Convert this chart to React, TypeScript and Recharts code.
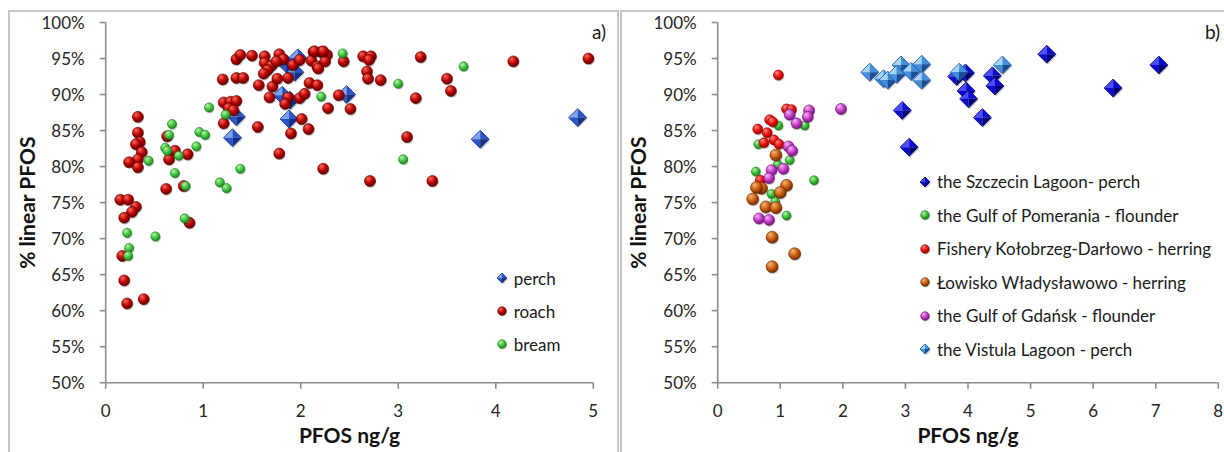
import React from 'react';
import { ScatterChart, Scatter, XAxis, YAxis } from 'recharts';

const FONT = 'Lato, "Open Sans", sans-serif';

// ---------- Panel a) : PFOS ng/g vs % linear PFOS ----------
const perchA: [number, number][] = [
  [1.30, 84.0], [1.34, 86.9], [1.81, 89.9], [1.89, 89.2], [1.88, 86.6], [1.97, 95.1],
  [1.94, 93.1], [1.85, 94.3], [2.47, 90.0], [3.84, 83.8], [4.84, 86.8],
];
const roachA: [number, number][] = [
  [0.33, 86.9], [0.33, 84.7], [0.35, 83.4], [0.31, 83.1], [0.37, 82.0], [0.33, 81.0], [0.24, 80.6], [0.33, 79.9],
  [0.63, 84.2], [0.71, 82.2], [0.65, 81.0], [0.84, 81.7], [0.62, 76.9], [0.80, 77.3], [0.86, 72.2],
  [0.15, 75.4], [0.23, 75.4], [0.31, 74.4], [0.27, 73.7], [0.19, 72.9], [0.17, 67.6], [0.19, 64.2], [0.22, 61.0], [0.39, 61.6],
  [1.21, 86.0], [1.56, 85.5], [1.21, 88.9], [1.28, 89.0], [1.34, 89.1], [1.26, 88.1], [1.31, 87.8],
  [1.20, 92.1], [1.34, 92.3], [1.41, 92.3], [1.34, 94.9], [1.38, 95.5], [1.50, 95.4], [1.63, 95.3], [1.63, 94.4],
  [1.70, 94.0], [1.66, 93.4], [1.62, 92.9], [1.57, 91.3], [1.71, 91.1], [1.76, 92.2], [1.87, 92.3], [1.68, 89.6],
  [1.87, 89.6], [1.84, 88.7], [1.99, 89.5], [2.04, 90.1], [1.78, 95.6], [1.82, 94.9], [1.75, 94.6], [1.92, 94.1],
  [1.99, 94.8], [2.13, 95.9], [2.21, 95.9], [2.27, 95.5], [2.11, 94.7], [2.17, 93.9], [2.25, 94.6], [2.44, 94.6],
  [2.09, 91.6], [2.17, 91.3], [2.39, 89.9], [2.28, 88.1], [2.51, 88.0], [2.01, 86.6], [2.08, 85.2], [1.90, 84.6],
  [1.78, 81.8], [2.64, 95.3], [2.72, 95.3], [2.70, 94.8], [2.68, 93.2], [2.69, 92.2], [2.82, 92.0], [3.23, 95.2],
  [3.50, 92.2], [3.54, 90.5], [3.18, 89.5], [4.18, 94.6], [4.95, 95.0], [3.09, 84.1], [2.23, 79.7], [2.71, 78.0],
  [3.35, 78.0], [2.18, 93.6], [2.14, 96.0], [2.23, 96.0],
];
const breamA: [number, number][] = [
  [1.06, 88.2], [1.23, 87.2], [0.68, 85.9], [0.65, 84.4], [0.96, 84.8], [1.02, 84.4], [0.93, 82.8], [0.61, 82.6],
  [0.63, 82.2], [0.75, 81.5], [0.44, 80.8], [0.71, 79.1], [0.82, 77.3], [1.38, 79.7], [1.17, 77.8], [1.24, 77.0],
  [0.81, 72.8], [0.22, 70.8], [0.51, 70.3], [0.24, 68.7], [0.23, 67.6], [2.43, 95.7], [2.21, 89.7], [3.67, 93.9],
  [3.00, 91.5], [3.05, 81.0],
];

// ---------- Panel b) ----------
const szczecinB: [number, number][] = [
  [2.95, 87.8], [3.06, 82.7], [3.82, 92.5], [3.96, 93.0], [3.97, 90.5], [4.01, 89.4], [4.23, 86.8],
  [4.39, 92.6], [4.43, 91.2], [5.26, 95.6], [6.32, 90.9], [7.05, 94.1],
];
const pomeraniaB: [number, number][] = [
  [0.97, 85.7], [1.39, 85.7], [0.65, 83.1], [1.15, 80.9], [0.96, 80.3], [0.61, 79.3], [1.54, 78.1],
  [0.86, 76.2], [0.92, 75.1], [1.10, 73.2],
];
const kolobrzegB: [number, number][] = [
  [0.97, 92.7], [1.10, 88.0], [1.18, 87.9], [0.83, 86.5], [0.88, 86.2], [0.64, 85.2], [0.79, 84.7],
  [0.74, 83.3], [0.90, 83.7], [0.98, 83.1], [0.68, 78.1],
];
const wladyslawowoB: [number, number][] = [
  [0.93, 81.6], [0.70, 77.0], [0.62, 77.1], [1.10, 77.4], [1.00, 76.4], [0.56, 75.5], [0.77, 74.4],
  [0.93, 74.3], [0.87, 70.2], [1.23, 67.9], [0.87, 66.1],
];
const gdanskB: [number, number][] = [
  [1.46, 87.8], [1.15, 87.2], [1.44, 86.9], [1.26, 86.0], [1.13, 82.8], [1.19, 82.2], [0.86, 79.5],
  [1.05, 79.7], [0.82, 78.4], [0.66, 72.8], [0.82, 72.6], [1.97, 88.0],
];
const vistulaB: [number, number][] = [
  [2.43, 93.1], [2.65, 92.2], [2.72, 92.0], [2.93, 94.1], [2.86, 92.8], [3.09, 93.2], [3.26, 94.2],
  [3.26, 92.0], [3.86, 93.1], [4.55, 94.1],
];

const xTicksA = [0, 1, 2, 3, 4, 5];
const xTicksB = [0, 1, 2, 3, 4, 5, 6, 7, 8];
const yTicks = [50, 55, 60, 65, 70, 75, 80, 85, 90, 95, 100];

const legendA = ['perch', 'roach', 'bream'];
const legendB = [
  'the Szczecin Lagoon- perch',
  'the Gulf of Pomerania - flounder',
  'Fishery Kołobrzeg-Darłowo - herring',
  'Łowisko Władysławowo - herring',
  'the Gulf of Gdańsk - flounder',
  'the Vistula Lagoon - perch',
];

type Pal = { light: string; base: string; dark: string };
const PAL: Record<string, Pal> = {
  perch: { light: '#7fa2ee', base: '#2b56c9', dark: '#142f85' },
  roach: { light: '#ff6a5a', base: '#b80000', dark: '#560000' },
  bream: { light: '#b8f5a8', base: '#3fc43f', dark: '#1b7a1b' },
  szcz: { light: '#4c4cff', base: '#0a0ad2', dark: '#000070' },
  pom: { light: '#b8f5a8', base: '#36bd36', dark: '#197519' },
  kol: { light: '#ff8a80', base: '#e80c0c', dark: '#8a0000' },
  wla: { light: '#f7b77a', base: '#c8590c', dark: '#5e2600' },
  gda: { light: '#f7b8f5', base: '#c23ac6', dark: '#6a0f70' },
  vis: { light: '#a6d4fa', base: '#4190dc', dark: '#1c4f98' },
};

const toPts = (arr: [number, number][]) => arr.map(([x, y]) => ({ x, y }));

function Ball({ cx, cy, r, k }: { cx: number; cy: number; r: number; k: string }) {
  const p = PAL[k];
  return (
    <g>
      <circle cx={cx + 0.8} cy={cy + 1.3} r={r} fill="rgba(0,0,0,0.22)" />
      <circle cx={cx} cy={cy} r={r} fill={`url(#grad-${k})`} stroke={p.dark} strokeWidth={0.6} />
    </g>
  );
}

function Diamond({ cx, cy, h, k }: { cx: number; cy: number; h: number; k: string }) {
  const p = PAL[k];
  const T = `${cx},${cy - h}`;
  const R = `${cx + h},${cy}`;
  const B = `${cx},${cy + h}`;
  const L = `${cx - h},${cy}`;
  const C = `${cx},${cy}`;
  return (
    <g>
      <polygon points={`${cx + 1},${cy - h + 1.5} ${cx + h + 1},${cy + 1.5} ${cx + 1},${cy + h + 1.5} ${cx - h + 1},${cy + 1.5}`} fill="rgba(0,0,0,0.2)" />
      <polygon points={`${L} ${T} ${C}`} fill={p.light} />
      <polygon points={`${T} ${R} ${C}`} fill={p.base} />
      <polygon points={`${L} ${B} ${C}`} fill={p.base} />
      <polygon points={`${R} ${B} ${C}`} fill={p.dark} />
      <polygon points={`${T} ${R} ${B} ${L}`} fill="none" stroke={p.dark} strokeWidth={0.8} />
    </g>
  );
}

const ballShape = (k: string, r: number) => (props: any) => <Ball cx={props.cx} cy={props.cy} r={r} k={k} />;
const diamondShape = (k: string, h: number) => (props: any) => <Diamond cx={props.cx} cy={props.cy} h={h} k={k} />;

const tickStyle = { fill: '#262626', fontSize: 17, fontFamily: FONT };
const axisStroke = '#8c8c8c';
const titleStyle = { fontSize: 21, fontWeight: 700, fontFamily: FONT, fill: '#111' };

function LegendRow({ x, y, k, diamond, label, size }: { x: number; y: number; k: string; diamond: boolean; label: string; size: number }) {
  return (
    <div
      style={{
        position: 'absolute', left: x - 7, top: y - 11, height: 22, display: 'flex', alignItems: 'center',
        whiteSpace: 'nowrap', fontFamily: FONT, fontSize: size, color: '#1a1a1a',
      }}
    >
      <svg width={14} height={14} style={{ flex: 'none' }}>
        {diamond ? <Diamond cx={7} cy={7} h={5} k={k} /> : <Ball cx={7} cy={7} r={4.3} k={k} />}
      </svg>
      <span style={{ marginLeft: 5 }}>{label}</span>
    </div>
  );
}

export default function App() {
  const H = 444;
  const margin = { top: 14.5, bottom: 29.3 };
  return (
    <div style={{ position: 'absolute', left: 0, top: 0, width: 1224, height: 452, overflow: 'hidden', background: '#fff' }}>
      <div style={{ position: 'absolute', left: 8, top: 8, width: 1216, height: H }}>
        <svg width={0} height={0} style={{ position: 'absolute' }}>
          <defs>
            {Object.keys(PAL).map((k) => (
              <radialGradient key={k} id={`grad-${k}`} cx="0.4" cy="0.35" r="0.7" fx="0.33" fy="0.27">
                <stop offset="0" stopColor={PAL[k].light} />
                <stop offset="0.55" stopColor={PAL[k].base} />
                <stop offset="1" stopColor={PAL[k].dark} />
              </radialGradient>
            ))}
          </defs>
        </svg>
        {/* panel frames */}
        <div style={{ position: 'absolute', left: 0, top: 2, width: 607, height: 470, border: '2px solid #c6c6c6' }} />
        <div style={{ position: 'absolute', left: 612, top: 2, width: 620, height: 470, border: '2px solid #c6c6c6' }} />

        {/* panel a */}
        <div style={{ position: 'absolute', left: 0, top: 0 }}>
          <ScatterChart width={609} height={H} margin={{ top: margin.top, bottom: margin.bottom, left: 0, right: 23.7 }}>
            <XAxis
              type="number" dataKey="x" domain={[0, 5]} ticks={xTicksA} height={40}
              tick={tickStyle} tickSize={6} tickMargin={16}
              axisLine={{ stroke: axisStroke, strokeWidth: 1.6 }} tickLine={{ stroke: axisStroke, strokeWidth: 1.6 }}
              label={{ value: 'PFOS ng/g', position: 'bottom', offset: 5, style: titleStyle }}
            />
            <YAxis
              type="number" dataKey="y" domain={[50, 100]} ticks={yTicks} width={97.7}
              tickFormatter={(v: number) => `${v}%`} tick={tickStyle} tickSize={6} tickMargin={15}
              axisLine={{ stroke: axisStroke, strokeWidth: 1.6 }} tickLine={{ stroke: axisStroke, strokeWidth: 1.6 }}
              label={{ value: '% linear PFOS', angle: -90, position: 'insideLeft', offset: 19.5, textAnchor: 'middle', style: { ...titleStyle, textAnchor: 'middle' } }}
            />
            <Scatter name="perch" data={toPts(perchA)} isAnimationActive={false} shape={diamondShape('perch', 9)} />
            <Scatter name="roach" data={toPts(roachA)} isAnimationActive={false} shape={ballShape('roach', 5.5)} />
            <Scatter name="bream" data={toPts(breamA)} isAnimationActive={false} shape={ballShape('bream', 4.6)} />
          </ScatterChart>
        </div>

        {/* panel b */}
        <div style={{ position: 'absolute', left: 604, top: 0 }}>
          <ScatterChart width={612} height={H} margin={{ top: margin.top, bottom: margin.bottom, left: 0, right: 5.7 }}>
            <XAxis
              type="number" dataKey="x" domain={[0, 8]} ticks={xTicksB} height={40}
              tick={tickStyle} tickSize={6} tickMargin={16}
              axisLine={{ stroke: axisStroke, strokeWidth: 1.6 }} tickLine={{ stroke: axisStroke, strokeWidth: 1.6 }}
              label={{ value: 'PFOS ng/g', position: 'bottom', offset: 5, style: titleStyle }}
            />
            <YAxis
              type="number" dataKey="y" domain={[50, 100]} ticks={yTicks} width={105.7}
              tickFormatter={(v: number) => `${v}%`} tick={tickStyle} tickSize={6} tickMargin={15}
              axisLine={{ stroke: axisStroke, strokeWidth: 1.6 }} tickLine={{ stroke: axisStroke, strokeWidth: 1.6 }}
              label={{ value: '% linear PFOS', angle: -90, position: 'insideLeft', offset: 26.7, textAnchor: 'middle', style: { ...titleStyle, textAnchor: 'middle' } }}
            />
            <Scatter name={legendB[0]} data={toPts(szczecinB)} isAnimationActive={false} shape={diamondShape('szcz', 9)} />
            <Scatter name={legendB[1]} data={toPts(pomeraniaB)} isAnimationActive={false} shape={ballShape('pom', 4.5)} />
            <Scatter name={legendB[2]} data={toPts(kolobrzegB)} isAnimationActive={false} shape={ballShape('kol', 5)} />
            <Scatter name={legendB[3]} data={toPts(wladyslawowoB)} isAnimationActive={false} shape={ballShape('wla', 6)} />
            <Scatter name={legendB[4]} data={toPts(gdanskB)} isAnimationActive={false} shape={ballShape('gda', 5.5)} />
            <Scatter name={legendB[5]} data={toPts(vistulaB)} isAnimationActive={false} shape={diamondShape('vis', 9)} />
          </ScatterChart>
        </div>

        {/* panel tags */}
        <div style={{ position: 'absolute', left: 584, top: 12, fontFamily: FONT, fontSize: 19, color: '#1a1a1a' }}>a)</div>
        <div style={{ position: 'absolute', left: 1197, top: 12, fontFamily: FONT, fontSize: 19, color: '#1a1a1a' }}>b)</div>

        {/* legends */}
        <LegendRow x={493.7} y={270} k="perch" diamond label={legendA[0]} size={17} />
        <LegendRow x={493.7} y={303} k="roach" diamond={false} label={legendA[1]} size={17} />
        <LegendRow x={493.7} y={336} k="bream" diamond={false} label={legendA[2]} size={17} />

        <LegendRow x={917} y={173.7} k="szcz" diamond label={legendB[0]} size={17} />
        <LegendRow x={917} y={207} k="pom" diamond={false} label={legendB[1]} size={17} />
        <LegendRow x={917} y={240.5} k="kol" diamond={false} label={legendB[2]} size={17} />
        <LegendRow x={917} y={274} k="wla" diamond={false} label={legendB[3]} size={17} />
        <LegendRow x={917} y={307.5} k="gda" diamond={false} label={legendB[4]} size={17} />
        <LegendRow x={917} y={341} k="vis" diamond label={legendB[5]} size={17} />
      </div>
    </div>
  );
}
